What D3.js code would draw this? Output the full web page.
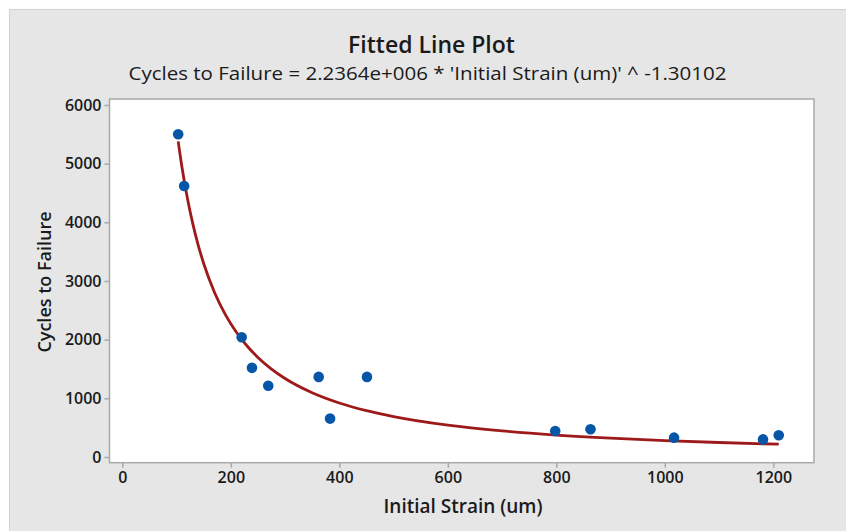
<!DOCTYPE html>
<html>
<head>
<meta charset="utf-8">
<script src="https://cdn.jsdelivr.net/npm/d3@7/dist/d3.min.js"></script>
<style>
  html, body { margin: 0; padding: 0; background: #ffffff; }
  svg { display: block; }
  text { font-family: "Open Sans", "Noto Sans", sans-serif; fill: #1a1a1a; }
</style>
</head>
<body>
<script>
// Observed data points
const strain = [103, 114, 220, 239, 269, 362, 383, 451, 798, 863, 1017, 1181, 1210];
const cycles = [5500, 4620, 2040, 1520, 1215, 1365, 655, 1365, 443, 472, 330, 300, 370];

// Fitted line (values along the curve as plotted)
const fitX = [103, 110, 120, 130, 140, 150, 170, 190, 210, 230, 250, 275, 300, 350, 400, 450, 500, 600, 700, 800, 900, 1000, 1100, 1210];
const fitY = [5380, 4939, 4411, 3974, 3609, 3299, 2803, 2426, 2130, 1892, 1697, 1499, 1339, 1096, 921, 790, 689, 543, 445, 374, 321, 280, 247, 218];

const xTicks = [0, 200, 400, 600, 800, 1000, 1200];
const yTicks = [0, 1000, 2000, 3000, 4000, 5000, 6000];

const titleText = "Fitted Line Plot";
const subtitleText = "Cycles to Failure = 2.2364e+006 * 'Initial Strain (um)' ^ -1.30102";
const xLabel = "Initial Strain (um)";
const yLabel = "Cycles to Failure";

const W = 846, H = 531;
const plot = { left: 109.5, right: 814, top: 99, bottom: 462.7 };

const svg = d3.select("body").append("svg").attr("width", W).attr("height", H);

svg.append("rect").attr("x", 9.5).attr("y", 9.5).attr("width", W - 9).attr("height", H - 9)
  .attr("fill", "#e6e6e6").attr("stroke", "#d2d2d2").attr("stroke-width", 1);

const x = d3.scaleLinear().domain([-23.6, 1275]).range([plot.left, plot.right]);
const y = d3.scaleLinear().domain([-97, 6102]).range([plot.bottom, plot.top]);

svg.append("rect")
  .attr("x", plot.left).attr("y", plot.top)
  .attr("width", plot.right - plot.left).attr("height", plot.bottom - plot.top)
  .attr("fill", "#ffffff").attr("stroke", "#a9a9a9").attr("stroke-width", 1.5);

const xAxis = svg.append("g").attr("transform", `translate(0,${plot.bottom})`)
  .call(d3.axisBottom(x).tickValues(xTicks).tickSize(5).tickPadding(4).tickFormat(d3.format("d")));
const yAxis = svg.append("g").attr("transform", `translate(${plot.left},0)`)
  .call(d3.axisLeft(y).tickValues(yTicks).tickSize(5).tickPadding(3).tickFormat(d3.format("d")));
[xAxis, yAxis].forEach(g => {
  g.select(".domain").remove();
  g.selectAll(".tick line").attr("stroke", "#a9a9a9").attr("stroke-width", 1.5);
  g.selectAll(".tick text").attr("fill", "#1a1a1a")
    .style("font-family", "\"Open Sans\", sans-serif").style("font-size", "16px").style("font-weight", 600);
});

const line = d3.line().x((d, i) => x(fitX[i])).y((d, i) => y(fitY[i])).curve(d3.curveMonotoneX);
svg.append("path").datum(fitX).attr("d", line)
  .attr("fill", "none").attr("stroke", "#9e1a1a").attr("stroke-width", 2.8);

svg.append("g").selectAll("circle").data(strain).join("circle")
  .attr("cx", (d) => x(d)).attr("cy", (d, i) => y(cycles[i]))
  .attr("r", 5.3).attr("fill", "#0656a8");

svg.append("text").attr("x", 431.5).attr("y", 53).attr("text-anchor", "middle")
  .style("font-size", "23px").style("font-weight", 600).text(titleText);
svg.append("text").attr("x", 427.5).attr("y", 80).attr("text-anchor", "middle")
  .style("font-size", "18px").style("font-weight", 400)
  .attr("textLength", 598).attr("lengthAdjust", "spacingAndGlyphs").text(subtitleText);
svg.append("text").attr("x", 463).attr("y", 513).attr("text-anchor", "middle")
  .style("font-size", "19px").style("font-weight", 600).text(xLabel);
svg.append("text").attr("transform", "translate(51,282) rotate(-90)").attr("text-anchor", "middle")
  .style("font-size", "18px").style("font-weight", 600).text(yLabel);
</script>
</body>
</html>
